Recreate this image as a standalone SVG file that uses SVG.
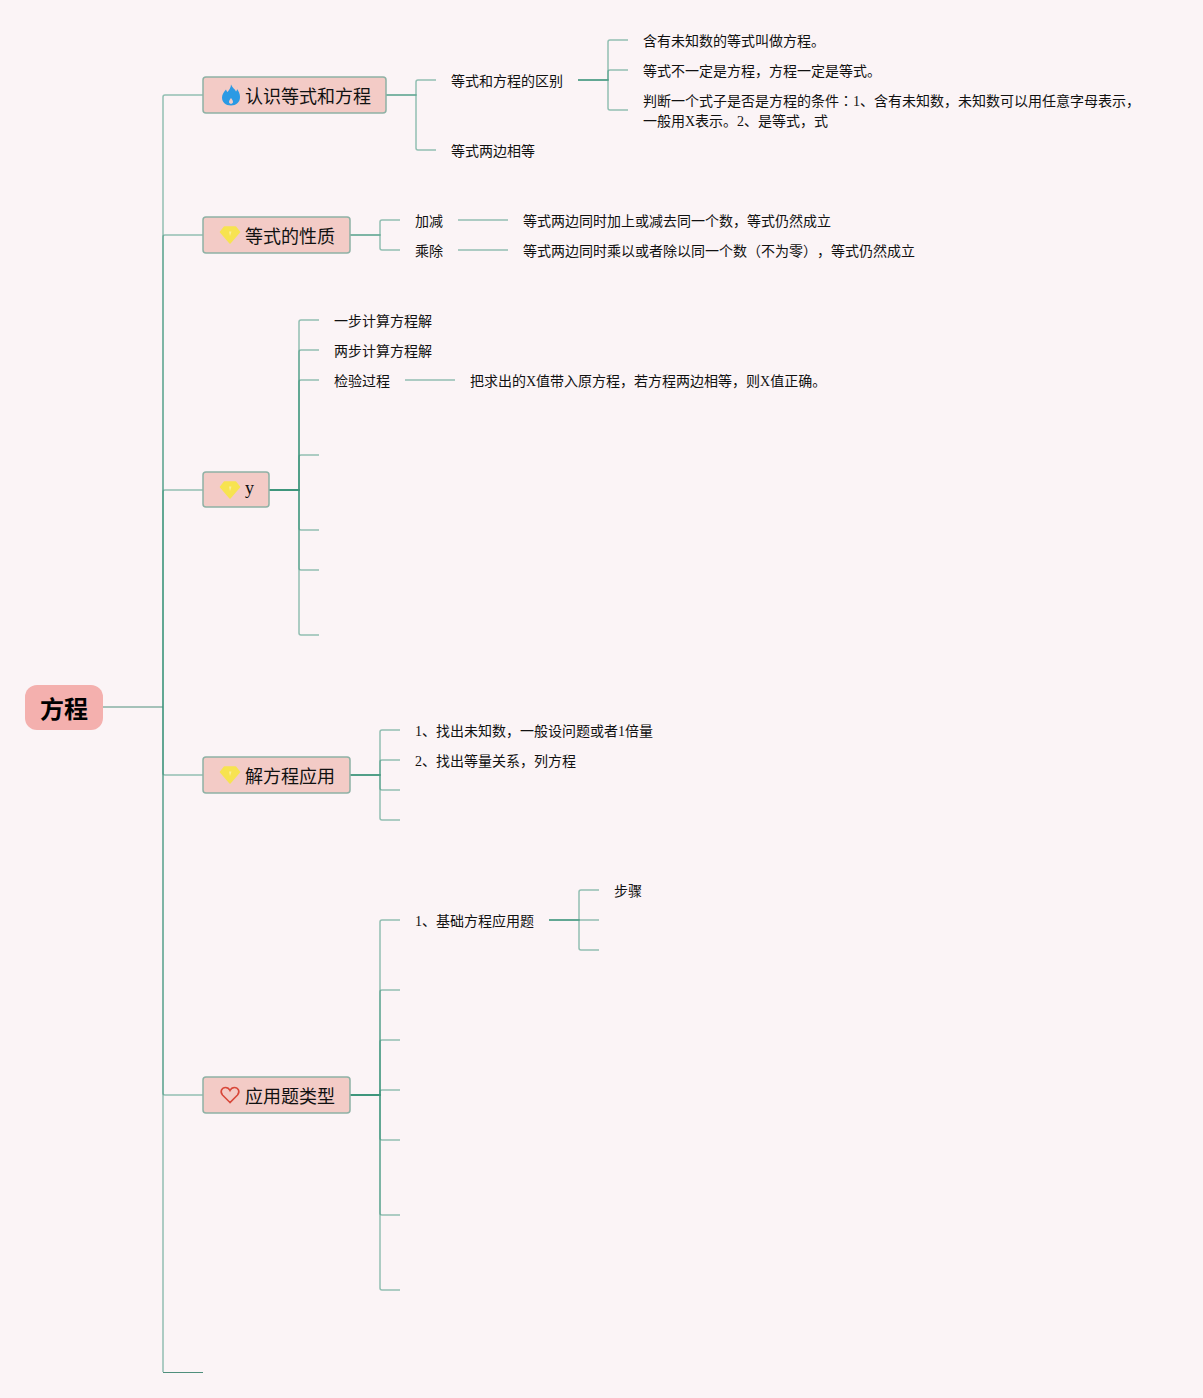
<svg xmlns="http://www.w3.org/2000/svg" width="1203" height="1398" viewBox="0 0 1203 1398">
<style>
text{font-family:"Liberation Serif","Noto Sans CJK SC",serif;fill:#111;text-spacing-trim:space-all}
.leaf{font-size:14px}
.main{font-size:18px}
.root{font-size:24px;font-weight:700;fill:#000;font-family:"Liberation Sans","Noto Sans CJK SC",sans-serif}
.c path{fill:none;stroke:#3a937a;stroke-width:1.500;stroke-opacity:.55}
.c path.thin{stroke:#4f8f7c;stroke-width:1;stroke-opacity:1}
.topic{fill:#f3cbc6;stroke:#8fb1a5;stroke-width:1.500}
.gem{fill:#f7e350}
.tc{font-family:"Noto Sans CJK TC",sans-serif}
</style>
<defs>
<g id="gem"><path class="gem" d="M-5.500-8H5.500L9.500-3 0 8-9.500-3Z" stroke="#f7e350" stroke-width="1.500" stroke-linejoin="round"/><path d="M-1-3.500H1.500L0 1Z" fill="#fbef9a"/></g>
</defs>
<rect width="1203" height="1398" fill="#fbf4f6"/>
<g id="connectors" class="c">
<path class="thin" d="M103 707H163"/>
<path d="M163 707V97Q163 95 165 95H203"/>
<path d="M163 707V237Q163 235 165 235H203"/>
<path d="M163 707V492Q163 490 165 490H203"/>
<path d="M163 707V773Q163 775 165 775H203"/>
<path d="M163 707V1093Q163 1095 165 1095H203"/>
<path d="M163 707V1372"/>
<path class="thin" d="M163 1372.500H203"/>
<path d="M386 95H416V82Q416 80 418 80H436"/>
<path d="M386 95H416V148Q416 150 418 150H436"/>
<path d="M578 80H608V42Q608 40 610 40H628"/>
<path d="M578 80H608V72Q608 70 610 70H628"/>
<path d="M578 80H608V108Q608 110 610 110H628"/>
<path d="M350 235H380V222Q380 220 382 220H400"/>
<path d="M350 235H380V248Q380 250 382 250H400"/>
<path d="M458 220H508"/>
<path d="M458 250H508"/>
<path d="M269 490H299V322Q299 320 301 320H319"/>
<path d="M269 490H299V352Q299 350 301 350H319"/>
<path d="M269 490H299V382Q299 380 301 380H319"/>
<path d="M269 490H299V457Q299 455 301 455H319"/>
<path d="M269 490H299V528Q299 530 301 530H319"/>
<path d="M269 490H299V568Q299 570 301 570H319"/>
<path d="M269 490H299V633Q299 635 301 635H319"/>
<path d="M405 380H455"/>
<path d="M350 775H380V732Q380 730 382 730H400"/>
<path d="M350 775H380V762Q380 760 382 760H400"/>
<path d="M350 775H380V788Q380 790 382 790H400"/>
<path d="M350 775H380V818Q380 820 382 820H400"/>
<path d="M350 1095H380V922Q380 920 382 920H400"/>
<path d="M350 1095H380V992Q380 990 382 990H400"/>
<path d="M350 1095H380V1042Q380 1040 382 1040H400"/>
<path d="M350 1095H380V1092Q380 1090 382 1090H400"/>
<path d="M350 1095H380V1138Q380 1140 382 1140H400"/>
<path d="M350 1095H380V1213Q380 1215 382 1215H400"/>
<path d="M350 1095H380V1288Q380 1290 382 1290H400"/>
<path d="M549 920H579V892Q579 890 581 890H599"/>
<path d="M549 920H599"/>
<path d="M549 920H579V948Q579 950 581 950H599"/>
</g>
<g id="root"><rect x="25" y="685" width="78" height="45" rx="12" fill="#f4b0ae"/><text class="root" x="40" y="718">方程</text></g>
<g id="t1"><rect class="topic" x="203" y="77" width="183" height="36" rx="3"/><path fill-rule="evenodd" d="M231 84.500C232.500 88 235 89 236 91.500C236.800 90.800 237 90 237 89C238.800 91 240 94 240 97C240 102.500 236 105.500 231 105.500C225.500 105.500 222 102 222 97.500C222 94 224 92 226 89.500C226.500 90.500 226.800 91.500 227.500 92C229 90 231 88 231 84.500ZM231 98C230 99.500 229 100.500 229 102C229 103.200 230 103.800 231 103.800C232 103.800 233 103.200 233 102C233 100.500 232 99.500 231 98Z" fill="#2b9ae4"/><text class="main" x="245" y="103">认识等式和方程</text></g>
<g id="t2"><rect class="topic" x="203" y="217" width="147" height="36" rx="3"/><use href="#gem" x="230" y="235"/><text class="main" x="245" y="243">等式的性质</text></g>
<g id="t3"><rect class="topic" x="203" y="472" width="66" height="35" rx="3"/><use href="#gem" x="230" y="490"/><text class="main" x="245" y="494">y</text></g>
<g id="t4"><rect class="topic" x="203" y="757" width="147" height="36" rx="3"/><use href="#gem" x="230" y="775"/><text class="main" x="245" y="783">解方程应用</text></g>
<g id="t5"><rect class="topic" x="203" y="1077" width="147" height="36" rx="3"/><path d="M230 1102.500L222.500 1095C219.500 1091.500 222 1087.500 225.500 1087.500C227.500 1087.500 229 1088.500 230 1090.500C231 1088.500 232.500 1087.500 234.500 1087.500C238 1087.500 240.500 1091.500 237.500 1095Z" fill="none" stroke="#d8483a" stroke-width="1.600"/><text class="main" x="245" y="1103">应用题类型</text></g>
<g id="n1"><text class="leaf" x="451" y="86">等式和方程的区别</text></g>
<g id="n2"><text class="leaf" x="451" y="156">等式两边相等</text></g>
<g id="n3"><text class="leaf" x="643" y="46">含有未知数的等式叫做方程。</text></g>
<g id="n4"><text class="leaf" x="643" y="76">等式不一定是方程，方程一定是等式。</text></g>
<g id="n5"><text class="leaf" x="643" y="106">判断一个式子是否是方程的条件<tspan class="tc">：</tspan>1、含有未知数，未知数可以用任意字母表示，</text><text class="leaf" x="643" y="126">一般用X表示。2、是等式，式</text></g>
<g id="n6"><text class="leaf" x="415" y="226">加减</text></g>
<g id="n7"><text class="leaf" x="415" y="256">乘除</text></g>
<g id="n8"><text class="leaf" x="523" y="226">等式两边同时加上或减去同一个数，等式仍然成立</text></g>
<g id="n9"><text class="leaf" x="523" y="256">等式两边同时乘以或者除以同一个数（不为零），等式仍然成立</text></g>
<g id="n10"><text class="leaf" x="334" y="326">一步计算方程解</text></g>
<g id="n11"><text class="leaf" x="334" y="356">两步计算方程解</text></g>
<g id="n12"><text class="leaf" x="334" y="386">检验过程</text></g>
<g id="n13"><text class="leaf" x="470" y="386">把求出的X值带入原方程，若方程两边相等，则X值正确。</text></g>
<g id="n14"><text class="leaf" x="415" y="736">1、找出未知数，一般设问题或者1倍量</text></g>
<g id="n15"><text class="leaf" x="415" y="766">2、找出等量关系，列方程</text></g>
<g id="n16"><text class="leaf" x="415" y="926">1、基础方程应用题</text></g>
<g id="n17"><text class="leaf" x="614" y="896">步骤</text></g>
</svg>
